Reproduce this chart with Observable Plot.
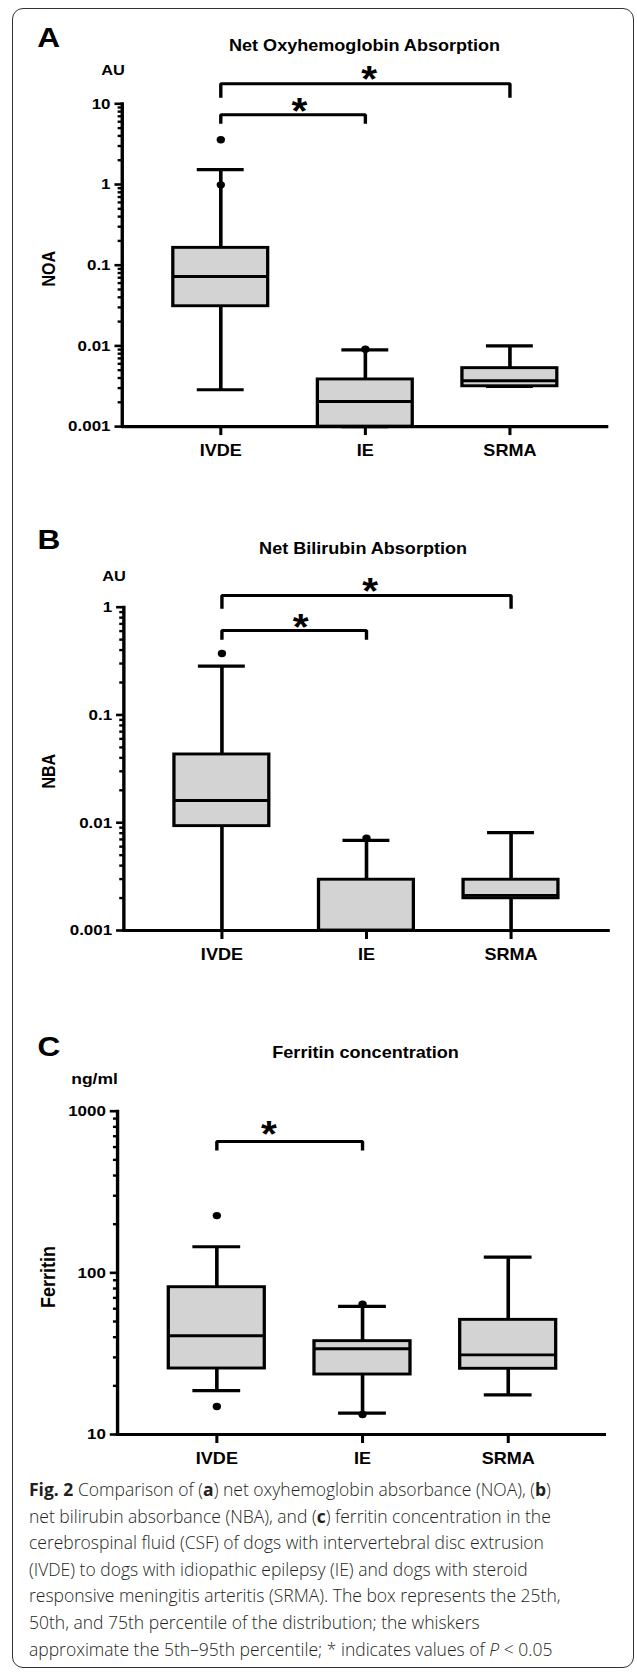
<!DOCTYPE html>
<html>
<head>
<meta charset="utf-8">
<script src="https://cdn.jsdelivr.net/npm/d3@7"></script>
<script src="https://cdn.jsdelivr.net/npm/@observablehq/plot@0.6"></script>
<style>
  html, body { margin: 0; padding: 0; background: #fff; }
  #page { position: relative; width: 637px; height: 1673px; overflow: hidden; background: #fff; }
  .panel { position: absolute; left: 0; width: 637px; }
  .panel svg { transform-origin: 0 0; display: block; background: transparent; }
  #frame { position: absolute; left: 12px; top: 7.5px; width: 622px; height: 1660px; box-sizing: border-box;
           border: 1.5px solid #333; border-radius: 11px; pointer-events: none; }
  #caption { position: absolute; left: 29px; top: 1476px; font-family: "Open Sans", "Noto Sans", sans-serif;
             font-size: 17.5px; font-weight: 300; line-height: 26.6px; color: #231f20; white-space: nowrap; }
  #caption b { font-weight: 700; }
</style>
</head>
<body>
<div id="page">
  <div id="panels"></div>
  <div id="caption">
    <div><b>Fig. 2</b> Comparison of (<b>a</b>) net oxyhemoglobin absorbance (NOA), (<b>b</b>)</div>
    <div>net bilirubin absorbance (NBA), and (<b>c</b>) ferritin concentration in the</div>
    <div>cerebrospinal fluid (CSF) of dogs with intervertebral disc extrusion</div>
    <div>(IVDE) to dogs with idiopathic epilepsy (IE) and dogs with steroid</div>
    <div>responsive meningitis arteritis (SRMA). The box represents the 25th,</div>
    <div>50th, and 75th percentile of the distribution; the whiskers</div>
    <div>approximate the 5th–95th percentile; * indicates values of <i>P</i> &lt; 0.05</div>
  </div>
  <div id="frame"></div>
</div>
<script>
// ---------------- data ----------------
const groups = ["IVDE", "IE", "SRMA"];

// Panel A: net oxyhemoglobin absorbance (AU)
const noaLow  = [0.00286, 0.001, 0.00316];
const noaQ1   = [0.031, 0.001, 0.00316];
const noaMed  = [0.0724, 0.00205, 0.0037];
const noaQ3   = [0.164, 0.00384, 0.0053];
const noaHigh = [1.53, 0.00895, 0.0100];
const noaOutlierGroup = ["IVDE", "IVDE", "IE"];
const noaOutlierValue = [3.58, 0.99, 0.0091];
const noaTickLabels = ["0.001", "0.01", "0.1", "1", "10"];
const noaBrackets = [
  {from: "IVDE", to: "SRMA", top: 17.69, leg: 11.87},
  {from: "IVDE", to: "IE", top: 7.31, leg: 5.65}
];

// Panel B: net bilirubin absorbance (AU)
const nbaLow  = [0.001, 0.001, 0.001];
const nbaQ1   = [0.0093, 0.001, 0.00199];
const nbaMed  = [0.0161, 0.001, 0.00212];
const nbaQ3   = [0.043, 0.00296, 0.00296];
const nbaHigh = [0.284, 0.00685, 0.0081];
const nbaOutlierGroup = ["IVDE", "IE"];
const nbaOutlierValue = [0.372, 0.0072];
const nbaTickLabels = ["0.001", "0.01", "0.1", "1"];
const nbaBrackets = [
  {from: "IVDE", to: "SRMA", top: 1.284, leg: 0.966},
  {from: "IVDE", to: "IE", top: 0.608, leg: 0.498}
];

// Panel C: ferritin (ng/ml)
const ferLow  = [18.7, 13.55, 17.6];
const ferQ1   = [25.6, 23.5, 25.5];
const ferMed  = [40.8, 33.9, 31.1];
const ferQ3   = [81.5, 37.8, 51.2];
const ferHigh = [145, 62, 125];
const ferOutlierGroup = ["IVDE", "IVDE", "IE", "IE"];
const ferOutlierValue = [226, 14.9, 64, 13.3];
const ferTickLabels = ["10", "100", "1000"];
const ferBrackets = [
  {from: "IVDE", to: "IE", top: 649.5, leg: 571.4}
];

// ---------------- layout (reference pixels) ----------------
const W = 564;            // plot width before horizontal stretch
const S = 637 / W;        // horizontal stretch of the original figure
const FONT = "'Liberation Sans', Arial, Helvetica, sans-serif";

const panels = [
  {letter: "A", title: "Net Oxyhemoglobin Absorption", unit: "AU", ylabel: "NOA",
   low: noaLow, q1: noaQ1, med: noaMed, q3: noaQ3, high: noaHigh,
   outGroup: noaOutlierGroup, outValue: noaOutlierValue, tickLabels: noaTickLabels, brackets: noaBrackets,
   top: 0, height: 475, xLeft: 121.7, xRight: 608.3, yTop: 103.3, yBottom: 426.1,
   letterPos: [36.7, 36.3], titlePos: [364, 44.8], unitPos: [112.5, 69.2], unitSize: 14.5,
   ylabelPos: [48.8, 268.3], ylabelSize: 16, starShift: [3, 6], starLift: [-3.8, -2.5]},
  {letter: "B", title: "Net Bilirubin Absorption", unit: "AU", ylabel: "NBA",
   low: nbaLow, q1: nbaQ1, med: nbaMed, q3: nbaQ3, high: nbaHigh,
   outGroup: nbaOutlierGroup, outValue: nbaOutlierValue, tickLabels: nbaTickLabels, brackets: nbaBrackets,
   top: 475, height: 490, xLeft: 123.3, xRight: 609.8, yTop: 606.7, yBottom: 930,
   letterPos: [37, 538.3], titlePos: [362.5, 547.5], unitPos: [113.4, 575.3], unitSize: 14.5,
   ylabelPos: [49, 770.8], ylabelSize: 16, starShift: [3, 6], starLift: [-3.5, -1.8]},
  {letter: "C", title: "Ferritin concentration", unit: "ng/ml", ylabel: "Ferritin",
   low: ferLow, q1: ferQ1, med: ferMed, q3: ferQ3, high: ferHigh,
   outGroup: ferOutlierGroup, outValue: ferOutlierValue, tickLabels: ferTickLabels, brackets: ferBrackets,
   top: 965, height: 510, xLeft: 117, xRight: 606, yTop: 1110.7, yBottom: 1434,
   letterPos: [37, 1045], titlePos: [365, 1052], unitPos: [94, 1078.3], unitSize: 15.5,
   ylabelPos: [47.8, 1276.5], ylabelSize: 18, starShift: [-21], starLift: [-6.5]}
];

function drawPanel(cfg) {
  const mt = cfg.yTop - cfg.top;
  const mb = cfg.top + cfg.height - cfg.yBottom;
  const ml = cfg.xLeft / S;
  const mr = W - cfg.xRight / S;
  const pi = 0.34, po = 0.344;
  const step = (W - ml - mr) / (groups.length - pi + 2 * po);
  const bw = step * (1 - pi);

  const stats = groups.map((g, i) => ({group: g, lo: cfg.low[i], q1: cfg.q1[i], med: cfg.med[i], q3: cfg.q3[i], hi: cfg.high[i]}));
  const outliers = cfg.outGroup.map((g, i) => ({group: g, value: cfg.outValue[i]}));
  const major = cfg.tickLabels.map(Number);
  const labelOf = new Map(major.map((v, i) => [v, cfg.tickLabels[i]]));
  const minor = [];
  for (let i = 0; i < major.length - 1; i++) for (let k = 2; k <= 9; k++) minor.push(+(k * major[i]).toPrecision(6));

  // anchor a text's visual centre at reference position p (glyph cap centre)
  const pos = (p, fs) => ({frameAnchor: "top-left", lineAnchor: "middle",
                           dx: p[0] / S - ml, dy: p[1] + 0.038 * fs - cfg.top - mt});

  const bracketPts = cfg.brackets.flatMap((b, j) => [
    {id: j, x: b.from, y: b.leg}, {id: j, x: b.from, y: b.top},
    {id: j, x: b.to, y: b.top}, {id: j, x: b.to, y: b.leg}
  ]);
  const stars = cfg.brackets.map((b, j) => Plot.text([b], {
    x: "from", y: "top", text: () => "*", fontSize: 36, fontWeight: "bold", fontFamily: FONT, lineAnchor: "middle",
    dx: (groups.indexOf(b.to) - groups.indexOf(b.from)) * step / 2 + cfg.starShift[j] / S,
    dy: cfg.starLift[j]
  }));

  const svg = Plot.plot({
    width: W, height: cfg.height,
    marginTop: mt, marginBottom: mb, marginLeft: ml, marginRight: mr,
    style: {fontFamily: FONT, color: "#000", background: "transparent", overflow: "visible"},
    x: {type: "band", domain: groups, paddingInner: pi, paddingOuter: po, align: 0.5, label: null},
    y: {type: "log", domain: [major[0], major[major.length - 1]], label: null},
    marks: [
      Plot.ruleX(stats, {x: "group", y1: "lo", y2: "q1", stroke: "#000", strokeWidth: 3.2}),
      Plot.ruleX(stats, {x: "group", y1: "q3", y2: "hi", stroke: "#000", strokeWidth: 3.2}),
      Plot.tickY(stats, {x: "group", y: "hi", inset: bw / 4, stroke: "#000", strokeWidth: 3.2}),
      Plot.tickY(stats, {x: "group", y: "lo", inset: bw / 4, stroke: "#000", strokeWidth: 3.2}),
      Plot.barY(stats, {x: "group", y1: "q1", y2: "q3", fill: "#d3d3d3", stroke: "#000", strokeWidth: 2.9}),
      Plot.tickY(stats, {x: "group", y: "med", stroke: "#000", strokeWidth: 2.9}),
      Plot.dot(outliers, {x: "group", y: "value", r: 3.7, fill: "#000"}),
      Plot.ruleY([major[0]], {stroke: "#000", strokeWidth: 3.2}),
      Plot.frame({anchor: "left", stroke: "#000", strokeWidth: 3}),
      Plot.axisY({ticks: minor, tickSize: 3.6, tickFormat: () => "", stroke: "#000", strokeWidth: 2.4, label: null}),
      Plot.axisY({ticks: major, tickSize: 6.4, tickPadding: 4, tickFormat: d => labelOf.get(d),
                  fontSize: 15, fontWeight: "bold", stroke: "#000", strokeWidth: 2.6, label: null}),
      Plot.axisX({tickSize: 9, tickPadding: 9, fontSize: 16, fontWeight: "bold", stroke: "#000", strokeWidth: 2.7, label: null}),
      Plot.line(bracketPts, {x: "x", y: "y", z: "id", stroke: "#000", strokeWidth: 3, strokeLinejoin: "miter", strokeLinecap: "butt"}),
      ...stars,
      Plot.text([cfg.letter], {...pos(cfg.letterPos, 28), text: d => d, fontSize: 28, fontWeight: "bold", textAnchor: "start"}),
      Plot.text([cfg.title], {...pos(cfg.titlePos, 16), text: d => d, fontSize: 16, fontWeight: "bold", textAnchor: "middle"}),
      Plot.text([cfg.unit], {...pos(cfg.unitPos, cfg.unitSize), text: d => d, fontSize: cfg.unitSize, fontWeight: "bold", textAnchor: "middle"}),
      Plot.text([cfg.ylabel], {...pos(cfg.ylabelPos, 0), text: d => d, fontSize: cfg.ylabelSize, fontWeight: "bold", textAnchor: "middle", rotate: -90})
    ]
  });
  svg.style.transform = `scaleX(${S})`;
  svg.style.maxWidth = "none";
  const holder = document.createElement("div");
  holder.className = "panel";
  holder.style.top = cfg.top + "px";
  holder.style.height = cfg.height + "px";
  holder.appendChild(svg);
  document.getElementById("panels").appendChild(holder);
}

panels.forEach(drawPanel);
</script>
</body>
</html>
